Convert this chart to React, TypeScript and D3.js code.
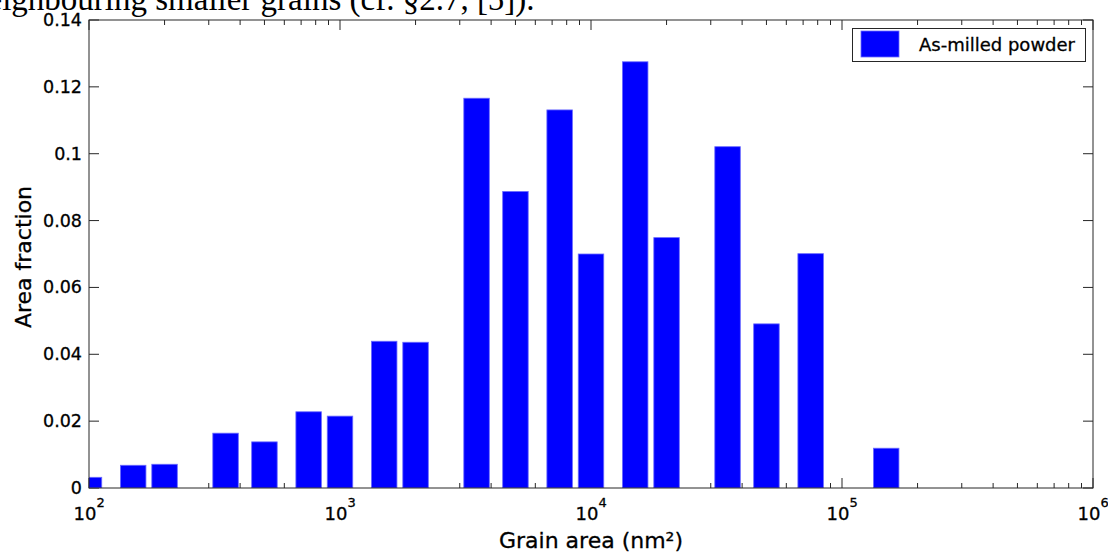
import React from 'react';
import * as d3 from 'd3';

// ---- data ----
const binCenters = [100, 150, 200, 350, 500, 750, 1000, 1500, 2000, 3500, 5000, 7500, 10000, 15000, 20000, 35000, 50000, 75000, 150000];
const areaFractions = [0.0032, 0.0068, 0.0071, 0.0164, 0.0138, 0.0228, 0.0215, 0.0439, 0.0436, 0.1166, 0.0887, 0.1131, 0.0700, 0.1275, 0.0749, 0.1021, 0.0491, 0.0701, 0.0119];
const yTicks = [0, 0.02, 0.04, 0.06, 0.08, 0.1, 0.12, 0.14];
const yTickLabels = ['0', '0.02', '0.04', '0.06', '0.08', '0.1', '0.12', '0.14'];
const xDecadeExponents = [2, 3, 4, 5, 6];
const legendLabel = 'As-milled powder';
const xLabel = 'Grain area (nm²)';
const yLabel = 'Area fraction';
const headerText = 'neighbouring smaller grains (cf. §2.7, [5]).';

const FONT = '"DejaVu Sans", Arial, sans-serif';

export default function App() {
  const W = 1108, H = 554;
  const x = d3.scaleLog().domain([1e2, 1e6]).range([89, 1093]);
  const y = d3.scaleLinear().domain([0, 0.14]).range([488, 20]);
  const [x0, x1] = x.range();
  const [yb, yt] = y.range();
  const halfDecades = 0.0508;
  const k = Math.pow(10, halfDecades);

  const minorTicks: number[] = [];
  for (let d = 2; d < 6; d++) {
    for (let m = 2; m <= 9; m++) minorTicks.push(m * Math.pow(10, d));
  }
  const majorTicks = xDecadeExponents.map((e) => Math.pow(10, e));
  const axisColor = '#262626';
  const textProps = { fontFamily: FONT, fill: '#000', stroke: '#000', strokeWidth: 0.3 } as const;

  return (
    <svg width={W} height={H} style={{ position: 'absolute', left: 0, top: 0, background: '#fff' }}>
      <defs>
        <clipPath id="plotClip">
          <rect x={x0} y={yt} width={x1 - x0} height={yb - yt} />
        </clipPath>
      </defs>
      <rect width={W} height={H} fill="#fff" />
      {/* cut-off document text above */}
      <text x={-29} y={10} fontFamily='"Liberation Serif", "Times New Roman", serif' fontSize={33} fill="#000">
        {headerText}
      </text>

      {/* ticks */}
      <g stroke={axisColor} strokeWidth={1}>
        {minorTicks.map((v, i) => (
          <g key={'mi' + i}>
            <line x1={x(v)} x2={x(v)} y1={yb} y2={yb - 5} />
            <line x1={x(v)} x2={x(v)} y1={yt} y2={yt + 5} />
          </g>
        ))}
        {majorTicks.map((v, i) => (
          <g key={'ma' + i}>
            <line x1={x(v)} x2={x(v)} y1={yb} y2={yb - 10} />
            <line x1={x(v)} x2={x(v)} y1={yt} y2={yt + 10} />
          </g>
        ))}
        {yTicks.map((v, i) => (
          <g key={'yt' + i}>
            <line x1={x0} x2={x0 + 10} y1={y(v)} y2={y(v)} />
            <line x1={x1} x2={x1 - 10} y1={y(v)} y2={y(v)} />
          </g>
        ))}
      </g>

      {/* bars */}
      <g clipPath="url(#plotClip)">
        {binCenters.map((c, i) => {
          const bx = x(c / k);
          const bw = x(c * k) - bx;
          return (
            <rect key={i} x={bx} y={y(areaFractions[i])} width={bw} height={yb - y(areaFractions[i])}
              fill="#0000ff" stroke="#6a6aff" strokeWidth={0.8} />
          );
        })}
      </g>

      {/* axes box */}
      <rect x={x0} y={yt} width={x1 - x0} height={yb - yt} fill="none" stroke={axisColor} strokeWidth={1} />

      {/* y tick labels */}
      {yTicks.map((v, i) => (
        <text key={'yl' + i} x={82} y={y(v) + 6} textAnchor="end" fontSize={17.5} {...textProps}>
          {yTickLabels[i]}
        </text>
      ))}

      {/* x tick labels */}
      {majorTicks.map((v, i) => (
        <g key={'xl' + i}>
          <text x={x(v) - 4} y={520} textAnchor="middle" fontSize={18} {...textProps}>10</text>
          <text x={x(v) + 7.5} y={506.5} textAnchor="start" fontSize={13} {...textProps}>
            {xDecadeExponents[i]}
          </text>
        </g>
      ))}

      {/* axis labels */}
      <text x={591} y={548} textAnchor="middle" fontSize={22} {...textProps}>{xLabel}</text>
      <text transform="translate(31,257) rotate(-90)" textAnchor="middle" fontSize={22} {...textProps}>{yLabel}</text>

      {/* legend */}
      <g>
        <rect x={852.5} y={28.5} width={233} height={33} fill="#fff" stroke={axisColor} strokeWidth={1} />
        <rect x={861} y={31} width={38} height={26} fill="#0000ff" stroke="#6a6aff" strokeWidth={0.8} />
        <text x={919} y={51} fontSize={18} {...textProps}>{legendLabel}</text>
      </g>
    </svg>
  );
}
